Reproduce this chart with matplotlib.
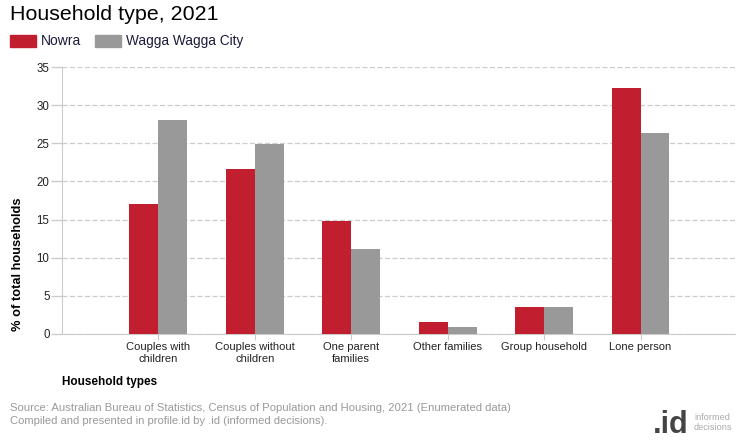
import matplotlib
matplotlib.use("Agg")
import matplotlib.pyplot as plt
import numpy as np
from matplotlib.patches import Rectangle

categories = ["Couples with\nchildren", "Couples without\nchildren", "One parent\nfamilies",
              "Other families", "Group household", "Lone person"]
nowra = [17.0, 21.6, 14.8, 1.6, 3.5, 32.2]
wagga = [28.0, 24.9, 11.2, 0.9, 3.5, 26.3]
series_names = ["Nowra", "Wagga Wagga City"]
yticks = [0, 5, 10, 15, 20, 25, 30, 35]

RED = "#C11F2F"
GREY = "#999999"
plt.rcParams['font.family'] = ['Liberation Sans', 'DejaVu Sans']

fig = plt.figure(figsize=(7.4, 4.4), dpi=100)
ax = fig.add_axes([62/740, 1-334/440, (735-62)/740, (334-67)/440])

x = np.arange(len(categories))
w = 0.3
ax.bar(x - w/2, nowra, w, color=RED, zorder=3)
ax.bar(x + w/2, wagga, w, color=GREY, zorder=3)

ax.set_xlim(-1, 5.98)
ax.set_ylim(0, 35)
ax.set_yticks(yticks)
ax.set_xticks(x)
ax.set_xticklabels(categories, fontsize=8.0, color="#222222", linespacing=1.15)
ax.tick_params(axis='y', labelsize=8.3, labelcolor="#222222", length=8, color="#cccccc", width=1, pad=1)
ax.tick_params(axis='x', length=4, color="#cccccc", pad=2)
ax.yaxis.grid(True, linestyle=(0, (4, 2)), color="#cccccc", linewidth=0.9, zorder=0)
for s in ["top", "right"]:
    ax.spines[s].set_visible(False)
ax.spines["left"].set_color("#cccccc")
ax.spines["bottom"].set_color("#cccccc")

fig.text(18/740, 1-264/440, "% of total households", fontsize=9.3, fontweight="bold",
         rotation=90, va="center", ha="center")

fig.text(62/740, 1-382/440, "Household types", fontsize=8.5, fontweight="bold", va="center", ha="left")

# Title
fig.text(10/740, 1-14/440, "Household type, 2021", fontsize=15.4, va="center", ha="left", color="black")

# Legend
fig.add_artist(Rectangle((10/740, 1-47/440), 26/740, 12/440, transform=fig.transFigure, color=RED))
fig.text(41/740, 1-41/440, series_names[0], fontsize=10, va="center", ha="left", color="#1a1a3a")
fig.add_artist(Rectangle((95/740, 1-47/440), 26/740, 12/440, transform=fig.transFigure, color=GREY))
fig.text(126/740, 1-41/440, series_names[1], fontsize=9.8, va="center", ha="left", color="#1a1a3a")

# Source
fig.text(10/740, 1-408/440, "Source: Australian Bureau of Statistics, Census of Population and Housing, 2021 (Enumerated data)",
         fontsize=8.1, color="#999999", va="center", ha="left")
fig.text(10/740, 1-421/440, "Compiled and presented in profile.id by .id (informed decisions).",
         fontsize=8.1, color="#999999", va="center", ha="left")

# Logo
fig.text(689/740, 1-433/440, ".id", fontsize=22, fontweight="bold", color="#444444", va="baseline", ha="right")
fig.text(694/740, 1-417/440, "informed", fontsize=6.6, color="#aaaaaa", va="center", ha="left")
fig.text(694/740, 1-427/440, "decisions", fontsize=6.6, color="#aaaaaa", va="center", ha="left")

fig.savefig("out.png", dpi=100)
